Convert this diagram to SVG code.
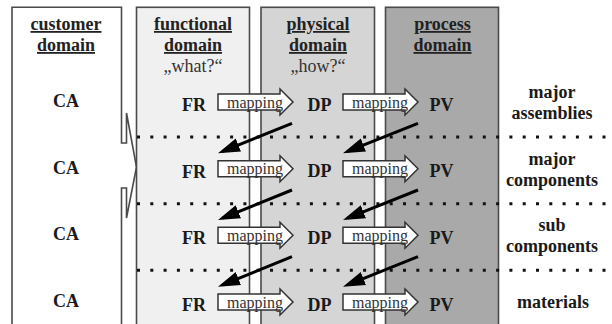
<svg xmlns="http://www.w3.org/2000/svg" width="612" height="324" viewBox="0 0 612 324">
<style>
  text { font-family: "Liberation Serif", "Times New Roman", Tinos, "DejaVu Serif", serif; }
  .box { stroke: #4a4a4a; stroke-width: 1.6; }
  .hd { font-weight: bold; font-size: 18px; text-anchor: middle; fill: #222; text-decoration: underline; }
  .q { font-size: 18px; text-anchor: middle; fill: #333; }
  .lb { font-weight: bold; font-size: 18px; text-anchor: middle; fill: #1a1a1a; }
  .mp { font-size: 16px; fill: #333; }
  .map { fill: #ffffff; stroke: #333; stroke-width: 1.5; }
  .dots { stroke: #111; stroke-width: 3; stroke-dasharray: 3 10.3; fill: none; }
  .diag { stroke: #000; stroke-width: 3; fill: none; marker-end: url(#head); }
</style>
<defs>
  <marker id="head" markerUnits="userSpaceOnUse" viewBox="0 0 22 16" markerWidth="22" markerHeight="16" refX="17" refY="8" orient="auto">
    <path d="M0,1 L22,8 L0,15 Z" fill="#000"/>
  </marker>
  <path id="mapArrow" class="map" d="M0,0 H62 V-5 L75,8 L62,21 V16 H0 Z"/>
</defs>
<rect width="612" height="324" fill="#ffffff"/>

<g id="customer-domain">
  <path class="box" fill="#ffffff" d="M12,330 V7.3 H121.5 V143 H126.5 V113 L136.5,167 L126.5,218 V188 H121.5 V330"/>
  <text class="hd" x="66" y="30">customer</text>
  <text class="hd" x="66" y="51">domain</text>
  <text class="lb" x="66" y="107">CA</text>
  <text class="lb" x="66" y="173.7">CA</text>
  <text class="lb" x="66" y="240.3">CA</text>
  <text class="lb" x="66" y="307">CA</text>
</g>

<g id="functional-domain">
  <rect class="box" x="136.5" y="7.3" width="113" height="330" fill="#f0f0f0"/>
  <text class="hd" x="193" y="30">functional</text>
  <text class="hd" x="193" y="51">domain</text>
  <text class="q" x="193" y="72">„what?“</text>
  <text class="lb" x="194" y="111">FR</text>
  <text class="lb" x="194" y="177.7">FR</text>
  <text class="lb" x="194" y="244.3">FR</text>
  <text class="lb" x="194" y="311">FR</text>
</g>

<g id="physical-domain">
  <rect class="box" x="261" y="7.3" width="113.5" height="330" fill="#d5d5d5"/>
  <text class="hd" x="318" y="30">physical</text>
  <text class="hd" x="318" y="51">domain</text>
  <text class="q" x="318" y="72">„how?“</text>
  <text class="lb" x="319.5" y="110.5">DP</text>
  <text class="lb" x="319.5" y="177.2">DP</text>
  <text class="lb" x="319.5" y="243.8">DP</text>
  <text class="lb" x="319.5" y="310.5">DP</text>
</g>

<g id="process-domain">
  <rect class="box" x="385.5" y="7.3" width="113" height="330" fill="#a9a9a9"/>
  <text class="hd" x="442.5" y="30">process</text>
  <text class="hd" x="442.5" y="51">domain</text>
  <text class="lb" x="441.5" y="110.5">PV</text>
  <text class="lb" x="441.5" y="177.2">PV</text>
  <text class="lb" x="441.5" y="243.8">PV</text>
  <text class="lb" x="441.5" y="310.5">PV</text>
</g>

<g id="level-labels">
  <text class="lb" x="552" y="98">major</text>
  <text class="lb" x="552" y="119">assemblies</text>
  <text class="lb" x="552" y="164.7">major</text>
  <text class="lb" x="552" y="185.7">components</text>
  <text class="lb" x="552" y="231.3">sub</text>
  <text class="lb" x="552" y="252.3">components</text>
  <text class="lb" x="553" y="308">materials</text>
</g>

<g id="level-separators">
  <line class="dots" x1="137" y1="137" x2="612" y2="137"/>
  <line class="dots" x1="137" y1="203.7" x2="612" y2="203.7"/>
  <line class="dots" x1="137" y1="270.3" x2="612" y2="270.3"/>
</g>

<g id="connectors">
  <use href="#mapArrow" x="218" y="94"/>
  <use href="#mapArrow" x="343" y="94"/>
  <use href="#mapArrow" x="218" y="160.7"/>
  <use href="#mapArrow" x="343" y="160.7"/>
  <use href="#mapArrow" x="218" y="227.3"/>
  <use href="#mapArrow" x="343" y="227.3"/>
  <use href="#mapArrow" x="218" y="294"/>
  <use href="#mapArrow" x="343" y="294"/>
  <text class="mp" x="227" y="107.5">mapping</text>
  <text class="mp" x="352" y="107.5">mapping</text>
  <text class="mp" x="227" y="174.2">mapping</text>
  <text class="mp" x="352" y="174.2">mapping</text>
  <text class="mp" x="227" y="240.8">mapping</text>
  <text class="mp" x="352" y="240.8">mapping</text>
  <text class="mp" x="227" y="307.5">mapping</text>
  <text class="mp" x="352" y="307.5">mapping</text>
  <line class="diag" x1="292" y1="123.3" x2="222.6" y2="151.4"/>
  <line class="diag" x1="418" y1="123.3" x2="347.6" y2="151.4"/>
  <line class="diag" x1="292" y1="190" x2="222.6" y2="218.1"/>
  <line class="diag" x1="418" y1="190" x2="347.6" y2="218.1"/>
  <line class="diag" x1="292" y1="256.7" x2="222.6" y2="284.8"/>
  <line class="diag" x1="418" y1="256.7" x2="347.6" y2="284.8"/>
</g>
</svg>
